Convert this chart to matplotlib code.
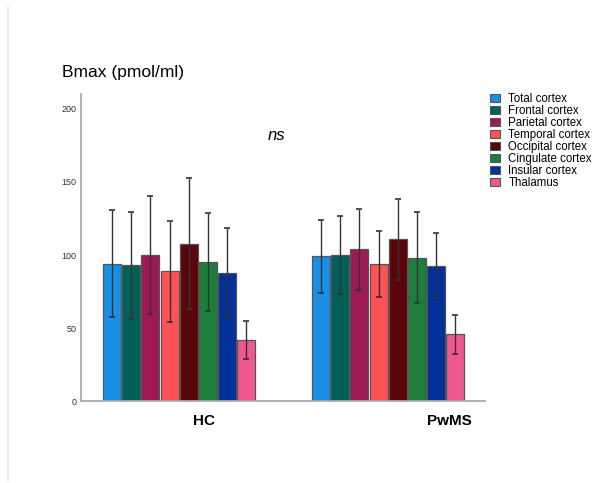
import numpy as np
import matplotlib
matplotlib.use("Agg")
import matplotlib.pyplot as plt
from matplotlib.patches import Patch
from matplotlib.lines import Line2D

plt.rcParams['font.family'] = ['Liberation Sans', 'DejaVu Sans']

# data
groups = ['HC', 'PwMS']
regions = ['Total cortex', 'Frontal cortex', 'Parietal cortex', 'Temporal cortex',
           'Occipital cortex', 'Cingulate cortex', 'Insular cortex', 'Thalamus']
hc_mean = [94.0, 93.0, 100.2, 88.9, 107.7, 95.3, 87.5, 42.0]
hc_sd = [36.5, 36.5, 40.3, 34.5, 44.7, 33.3, 30.7, 12.8]
pwms_mean = [99.2, 99.9, 104.1, 94.0, 110.7, 98.3, 92.8, 45.9]
pwms_sd = [25.0, 26.5, 27.7, 22.4, 27.9, 30.9, 22.4, 13.2]
colors = ['#1a8fe6', '#035f5a', '#9e1a57', '#ff5257',
          '#5a0509', '#1c7e3a', '#00309a', '#ee5891']

fig = plt.figure(figsize=(5.95, 4.83), dpi=100)
ax = fig.add_axes([0.136, 0.169, 0.679, 0.636])

group_start = [0.0, 10.91]
label_x = [4.79, 17.58]
means = [hc_mean, pwms_mean]
sds = [hc_sd, pwms_sd]

for g in range(2):
    xs = group_start[g] + np.arange(len(regions))
    ax.bar(xs, means[g], width=0.94, color=colors, edgecolor='#555555',
           linewidth=0.9, zorder=2)
    ax.errorbar(xs, means[g], yerr=sds[g], fmt='none', ecolor='#333333',
                elinewidth=1.0, capsize=2.5, capthick=1.2, zorder=3)
    ax.text(label_x[g], -13.5, groups[g], ha='center', va='center',
            fontsize=11, fontweight='bold')

ax.set_xlim(-1.63, 19.46)
ax.set_ylim(0, 210)
ax.set_yticks([0, 50, 100, 150, 200])
ax.set_xticks([])
ax.tick_params(axis='y', length=0, labelsize=6.5, labelcolor='#333333', pad=3)
for s in ['top', 'right']:
    ax.spines[s].set_visible(False)
for s in ['left', 'bottom']:
    ax.spines[s].set_color('#aaaaaa')
    ax.spines[s].set_linewidth(1.3)

fig.text(62 / 595, 1 - 72 / 483, 'Bmax (pmol/ml)', fontsize=12.5,
         ha='left', va='center')
ax.text(8.6, 182, 'ns', fontsize=12, style='italic', ha='center', va='center')

handles = [Patch(facecolor=c, edgecolor='#555555', linewidth=0.8) for c in colors]
fig.legend(handles, regions, loc='upper left', bbox_to_anchor=(490 / 595, 1 - 93 / 483),
           frameon=False, fontsize=8.3, handlelength=0.85, handleheight=0.8,
           handletextpad=0.75, labelspacing=0.0, borderpad=0, borderaxespad=0)

fig.add_artist(Line2D([8 / 595, 8 / 595], [1 - 7 / 483, 1 - 480 / 483],
                      color='#e6e6e6', linewidth=1.2))

fig.savefig('out.png', dpi=100)
